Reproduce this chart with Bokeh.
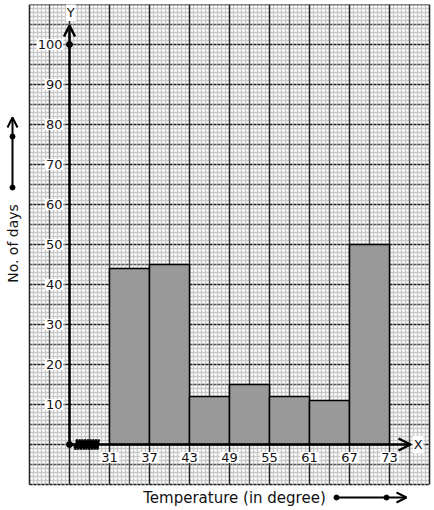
import numpy as np
from bokeh.plotting import figure
from bokeh.models import Range1d, Arrow, OpenHead
from bokeh.core.properties import value
from bokeh.embed import file_html
from bokeh.resources import INLINE

# ---- data ----
class_edges = [31, 37, 43, 49, 55, 61, 67, 73]
days = [44, 45, 12, 15, 12, 11, 50]
x_tick_labels = ["31", "37", "43", "49", "55", "61", "67", "73"]
y_ticks = [10, 20, 30, 40, 50, 60, 70, 80, 90, 100]
y_tick_labels = ["10", "20", "30", "40", "50", "60", "70", "80", "90", "100"]
x_title = "Temperature (in degree)"
y_title = "No. of days"

# ---- graph paper extent (in data units) ----
PX0, PX1 = 19, 79      # degrees
PY0, PY1 = -10, 110    # days
ORIGIN_X = 25          # where the Y axis sits (axis break)

FONT = value("DejaVu Sans")

p = figure(width=434, height=506, output_backend="svg", toolbar_location=None,
           x_range=Range1d(14.65, 79.75), y_range=Range1d(-16.5, 110),
           min_border=0, margin=(4, 0, 0, 0))
p.axis.visible = False
p.grid.visible = False
p.outline_line_color = None
p.background_fill_color = "white"
p.border_fill_color = "white"

# ---- graph paper ----
mx = PX0 + 0.6 * np.arange(0, 101)
my = np.arange(PY0, PY1 + 1)
p.segment(x0=mx, y0=PY0, x1=mx, y1=PY1, line_color="#c8c8c8", line_width=1.3)
p.segment(x0=PX0, y0=my, x1=PX1, y1=my, line_color="#c8c8c8", line_width=1.3)

vx_mid = np.arange(PX0 + 3, PX1, 6)
vx_dark = np.arange(PX0, PX1 + 1, 6)
p.segment(x0=vx_mid, y0=PY0, x1=vx_mid, y1=PY1, line_color="#555555", line_width=1.4)
p.segment(x0=vx_dark, y0=PY0, x1=vx_dark, y1=PY1, line_color="#222222", line_width=1.5)

hy_mid = np.arange(PY0 + 5, PY1, 10)
hy_dark = np.arange(PY0, PY1, 10)
p.segment(x0=PX0, y0=hy_mid, x1=PX1, y1=hy_mid, line_color="#555555", line_width=1.4, line_dash="3 1")
p.segment(x0=PX0, y0=hy_dark, x1=PX1, y1=hy_dark, line_color="#222222", line_width=1.5, line_dash="3 1")
p.segment(x0=PX0, y0=PY1, x1=PX1, y1=PY1, line_color="#222222", line_width=1.5)

# ---- histogram ----
p.quad(left=class_edges[:-1], right=class_edges[1:], bottom=0, top=days,
       fill_color="#999999", line_color="black", line_width=1.5)

# ---- axes ----
p.add_layout(Arrow(end=OpenHead(size=11, line_width=2.5, line_color="black"),
                   x_start=ORIGIN_X, y_start=0, x_end=ORIGIN_X, y_end=104.75,
                   line_width=2.5, line_color="black"))
p.add_layout(Arrow(end=OpenHead(size=12, line_width=2.5, line_color="black"),
                   x_start=ORIGIN_X, y_start=0, x_end=76.15, y_end=0,
                   line_width=2.5, line_color="black"))

# axis break zig-zag
zx = np.linspace(25.7, 29.4, 19)
zy = np.tile([1.3, -1.3], 10)[:19]
zy[0] = 0
p.line(zx, zy, line_color="black", line_width=2.2)
p.scatter([ORIGIN_X, ORIGIN_X], [0, 100], size=6, color="black")

# tick labels
p.text(x=class_edges, y=[-3.25] * len(class_edges), text=x_tick_labels,
       text_font=FONT, text_font_size="13px", text_align="center", text_baseline="middle",
       text_color="#111111", background_fill_color="white", padding=1)
p.text(x=[24.1] * len(y_ticks), y=y_ticks, text=y_tick_labels,
       text_font=FONT, text_font_size="13px", text_align="right", text_baseline="middle",
       text_color="#111111", background_fill_color="white", padding=1)
p.text(x=[25.2, 77.3], y=[108, 0], text=["Y", "X"],
       text_font=FONT, text_font_size="13px", text_align="center", text_baseline="middle",
       text_color="#111111", background_fill_color="white", padding=1)

# axis titles
p.text(x=[16.45], y=[50.25], text=[y_title], angle=np.pi / 2,
       text_font=FONT, text_font_size="14px", text_align="center", text_baseline="middle",
       text_color="#111111")
p.text(x=[49.75], y=[-13.25], text=[x_title],
       text_font=FONT, text_font_size="15px", text_align="center", text_baseline="middle",
       text_color="#111111")

# direction arrows next to titles
p.add_layout(Arrow(end=OpenHead(size=10, line_width=2, line_color="black"),
                   x_start=16.45, y_start=64.25, x_end=16.45, y_end=81.75,
                   line_width=2, line_color="black"))
p.add_layout(Arrow(end=OpenHead(size=10, line_width=2, line_color="black"),
                   x_start=65.05, y_start=-13.25, x_end=75.55, y_end=-13.25,
                   line_width=2, line_color="black"))
p.scatter([16.45, 16.45, 65.05, 72.55], [64.25, 77, -13.25, -13.25], size=5, color="black")

open("out.html", "w").write(file_html(p, INLINE))
